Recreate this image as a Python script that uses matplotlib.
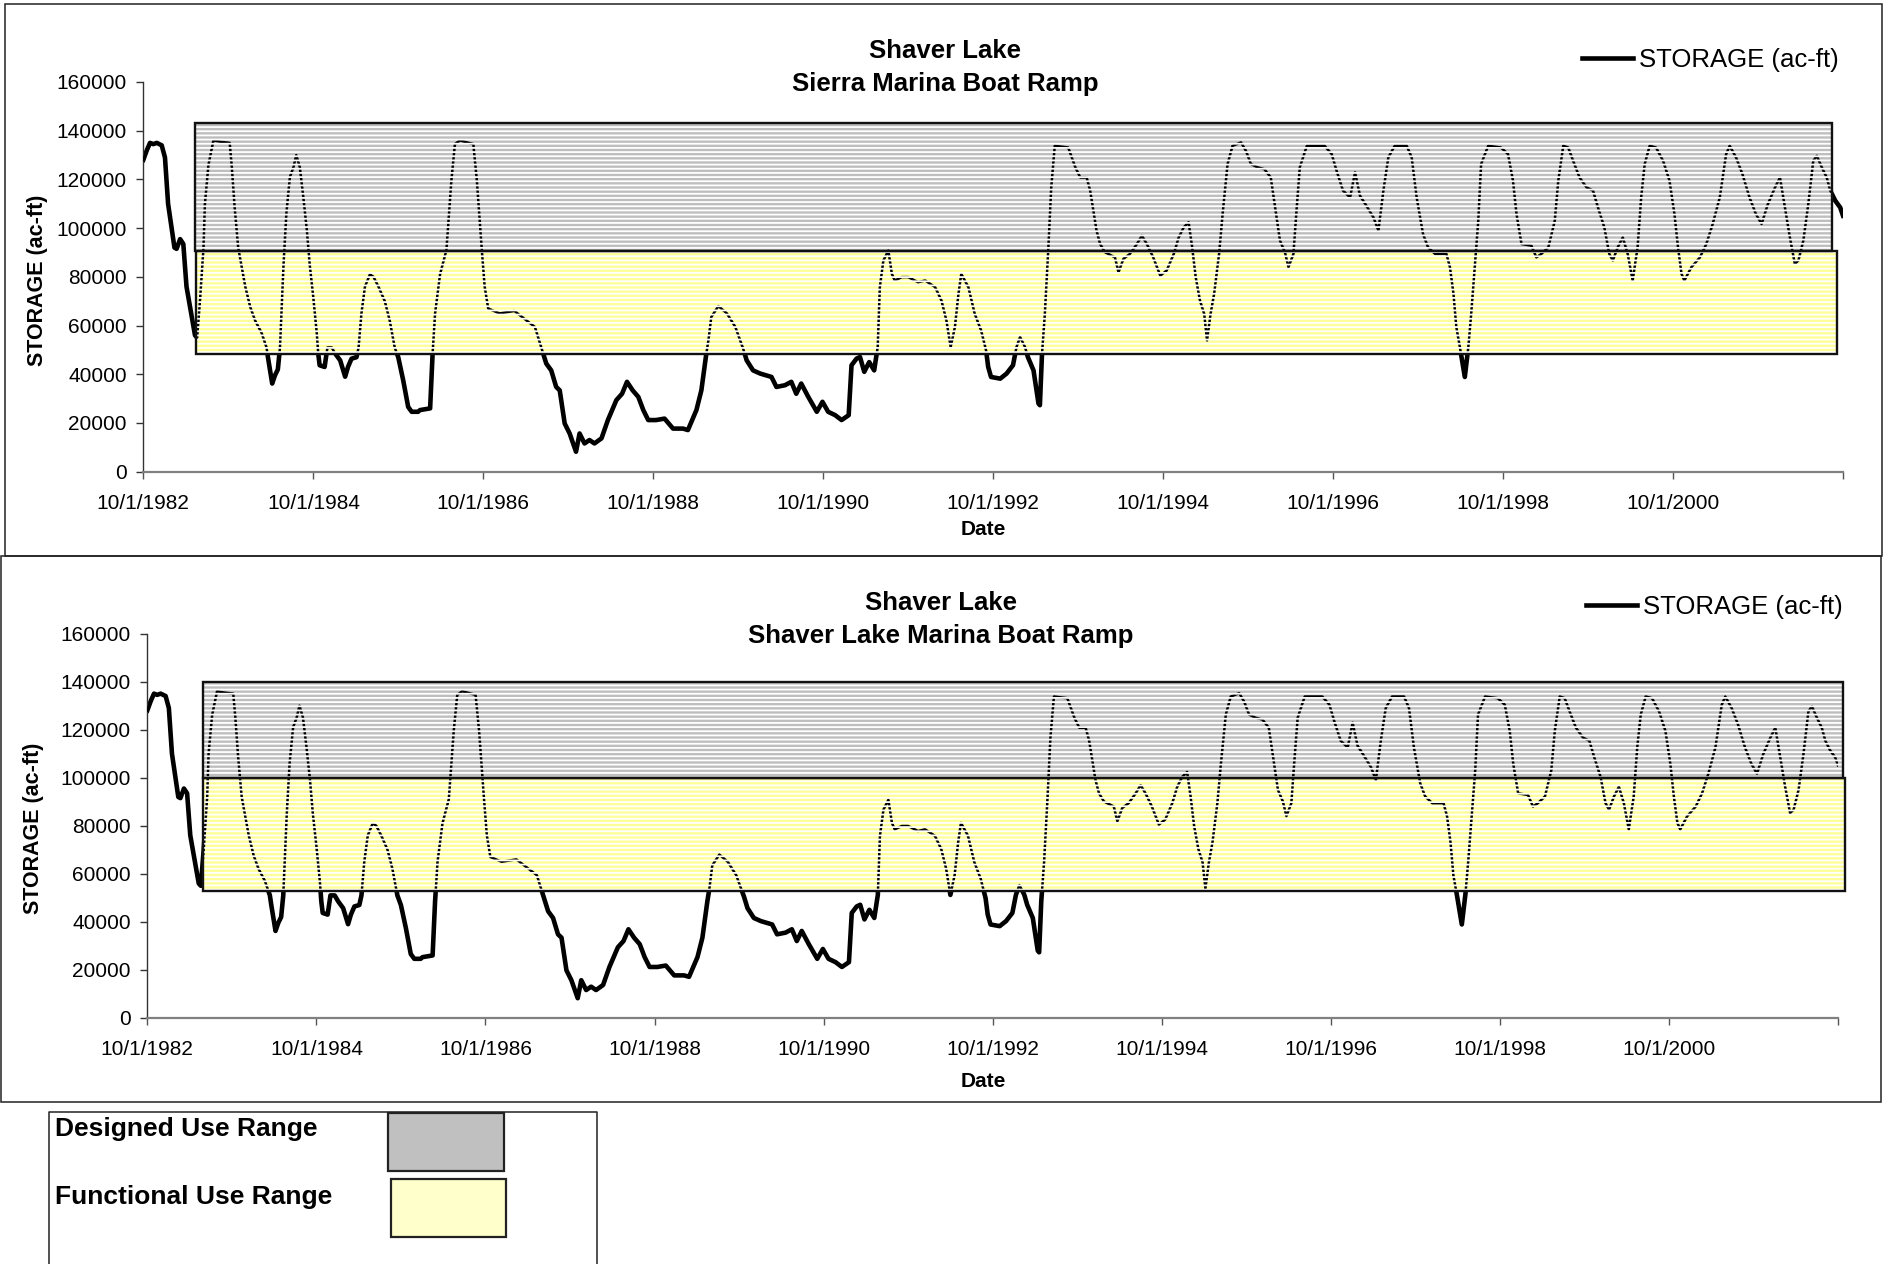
import numpy as np
import matplotlib
matplotlib.use("Agg")
import matplotlib.pyplot as plt
import matplotlib.dates as mdates
from matplotlib.patches import Rectangle
from matplotlib.lines import Line2D

plt.rcParams['font.family'] = ['Liberation Sans', 'DejaVu Sans']
plt.rcParams['hatch.linewidth'] = 1.3

W, H = 1887, 1264

# Reservoir storage, Shaver Lake (months after 10/1/1982, thousand acre-feet)
months = [
    0, 0.5, 0.95, 1.4, 1.9, 2.6, 3.06, 3.5, 4.0, 4.4, 4.7, 5.2, 5.65, 6.1, 6.6, 7.3, 7.6, 8.0, 8.5, 8.7,
    9.2, 9.9, 10.8, 12.2, 12.5, 12.9, 13.4, 13.9, 14.4, 15.1, 15.8, 16.7, 17.4, 17.6, 17.9, 18.2, 18.6,
    19.0, 19.3, 19.5, 19.8, 20.2, 20.7, 21.2, 21.6, 22.1, 22.6, 23.1, 23.5, 24.0, 24.5, 24.7, 24.9, 25.6,
    26.0, 26.6, 27.1, 27.8, 28.5, 28.9, 29.4, 30.1, 30.4, 30.8, 31.3, 32.0, 32.5, 33.2, 34.1, 34.8, 35.5,
    36.0, 36.7, 37.4, 37.9, 38.8, 39.07, 40.5, 40.85, 41.2, 41.9, 42.8, 43.5, 44.0, 44.7, 46.6, 47.1,
    47.8, 48.2, 48.7, 50.3, 52.4, 53.5, 55.3, 56.2, 56.9, 57.6, 58.3, 58.8, 59.5, 60.2, 61.1, 61.6, 62.3,
    63.0, 63.7, 64.7, 65.6, 66.8, 67.6, 68.3, 69.1, 69.9, 70.6, 71.3, 72.4, 73.6, 74.8, 76.2, 76.9, 78.1,
    78.8, 79.5, 79.8, 80.2, 81.2, 82.4, 83.6, 84.7, 85.2, 86.1, 87.1, 88.7, 89.4, 90.6, 91.5, 92.2, 92.9,
    93.9, 95.1, 95.9, 96.7, 97.7, 98.6, 99.6, 100.0, 100.7, 101.2, 101.8, 102.5, 103.2, 103.7, 104.0,
    104.5, 105.2, 105.7, 106.1, 107.1, 108.0, 109.4, 110.4, 111.8, 112.7, 113.4, 114.0, 114.6, 115.1,
    115.5, 116.5, 117.4, 118.3, 119.0, 119.3, 119.7, 121.0, 121.9, 122.8, 123.3, 123.8, 124.5, 124.9,
    125.7, 126.4, 126.6, 126.9, 127.3, 127.8, 128.2, 128.7, 130.6, 131.6, 132.3, 133.2, 133.7, 134.6,
    135.1, 135.8, 137.2, 137.7, 138.4, 139.3, 140.3, 141.0, 141.7, 142.6, 143.6, 144.5, 145.5, 146.2,
    146.9, 147.6, 148.1, 148.6, 149.2, 149.8, 150.2, 150.7, 151.2, 151.9, 152.4, 153.1, 153.8, 155.0,
    155.7, 156.4, 157.3, 158.3, 159.2, 160.5, 161.2, 161.7, 162.4, 162.8, 163.3, 164.3, 166.8, 167.8,
    168.5, 169.4, 170.4, 171.1, 171.8, 172.7, 173.7, 174.4, 175.1, 175.8, 176.7, 178.4, 179.1, 179.8,
    180.7, 181.4, 182.4, 184.0, 184.5, 185.0, 185.4, 185.9, 186.6, 187.1, 187.5, 188.0, 188.5, 188.9,
    189.9, 191.7, 192.7, 193.4, 193.9, 194.6, 196.0, 196.7, 197.4, 198.4, 199.3, 199.8, 200.5, 201.2,
    201.9, 202.8, 203.8, 204.7, 205.4, 206.3, 207.0, 207.5, 208.2, 208.9, 209.6, 210.3, 211.0, 211.5,
    212.0, 212.7, 213.6, 214.6, 215.5, 216.2, 216.7, 217.2, 217.6, 218.6, 219.8, 220.7, 221.6, 222.6,
    223.5, 224.0, 224.9, 225.8, 226.8, 227.7, 228.5, 229.4, 230.4, 231.1, 231.8, 232.5, 233.2, 233.7,
    234.4, 235.1, 235.8, 236.3, 237.0, 237.7, 238.2, 238.9, 239.6, 240.0,
]
storage_kaf = [
    128, 132, 135, 134.5, 135, 134, 129, 110, 100, 92, 91.5, 95.5, 93.5, 76, 67.6, 56, 55, 70, 92, 110,
    126, 136, 135.5, 135, 125, 108.5, 92, 84, 76, 67.6, 62, 57, 51, 47, 41.6, 36.2, 39.6,
    42, 51, 65, 85, 106, 121, 125, 130, 125, 112.6, 99, 85, 71.7, 56.7, 48.5, 43.7, 43,
    51, 51, 48.5, 45.7, 39, 43, 46.4, 47, 51, 65, 76, 81, 80, 76, 70, 62, 51,
    47, 37.5, 26.6, 24.6, 24.6, 25.3, 26, 48.5, 65, 81, 91, 119.5, 134.5, 136, 134.5, 119.5,
    91, 76, 67, 65, 66, 63.5, 59.4, 51, 44.4, 41.6, 34.8, 33.4, 19.8, 15.7, 8.2, 15.7, 11.6,
    13, 11.6, 13.7, 21.2, 29.4, 32, 36.9, 33.4, 30.7, 25.3, 21.2, 21.2, 21.8, 17.7, 17.7, 17.1, 25.3,
    33.4, 48.5, 54, 63.5, 68, 65, 59.4, 50.5, 45.7, 41.6, 40.3, 38.9, 34.8, 35.5, 36.9, 32, 36.2,
    30.7, 24.6, 28.7, 24.6, 23.2, 21.2, 23.2, 43.7, 46.4, 47.1, 41, 45, 41.6, 51.2, 75.8,
    86.7, 90.8, 81.2, 78.5, 79.9, 79.9, 77.8, 78.5, 75.8, 70.3, 62.1, 51.2, 59.4, 73,
    81.2, 75.8, 64.8, 58, 49.8, 43, 38.9, 38.2, 40.3, 43.7, 51.2, 55.3, 51.2, 47.1,
    41.6, 28, 27.3, 48.5, 64.8, 92.2, 116.7, 133.8, 133.1, 125, 120.8, 120.8, 115.4, 99,
    93.5, 90.1, 88, 81.9, 87.4, 89.4, 93.5, 96.9, 93.5, 88, 80.5, 82.6, 89.4, 96.2,
    100.3, 102.4, 92.2, 79.9, 70.3, 64.8, 53.9, 64.8, 73, 89.4, 105.8, 126.3, 133.8, 135.2,
    131.7, 126.3, 125, 124.2, 120.8, 94.9, 90.1, 84, 89.4, 105.8, 125, 133.8, 133.8, 130.4,
    123.5, 115.4, 112.6, 122.9, 113.3, 109.2, 104.4, 99, 115.4, 129, 133.8, 133.8, 129, 112.6,
    97.6, 92.2, 89.4, 89.4, 84, 73, 59.4, 51.2, 38.9, 51.2, 64.8, 84, 103, 126.3,
    133.8, 133.1, 130.4, 119.5, 105.8, 93.5, 92.8, 88, 89.4, 92.2, 103, 119.5, 133.8, 133.1,
    127.6, 120.8, 116.7, 115.4, 108.5, 100.3, 89.4, 86.7, 92.2, 96.2, 89.4, 78.5, 92.2, 112.6,
    126.3, 133.8, 133.1, 127.6, 119.5, 105.8, 92.2, 81.2, 78.5, 84, 88, 93.5, 101.7, 112.6,
    130.4, 133.8, 129, 122.2, 112.6, 105.8, 101.7, 109.9, 116.7, 120.8, 108.5, 96.2, 85.3, 86.7,
    94.9, 109.9, 127.6, 129.7, 125, 120.8, 115.4, 111.3, 108.5, 105.1,
]
storage = np.array(storage_kaf) * 1000.0

tick_years = list(range(1982, 2003, 2))
tick_labels = [f"10/1/{y}" for y in tick_years[:-1]] + [""]
y_ticks = list(range(0, 160001, 20000))

# Boat ramp use ranges: (low, high) storage and (start, end) months
sierra_designed = (90500, 143000)
sierra_designed_span = (7.3, 238.5)
sierra_functional = (48500, 90500)
sierra_functional_span = (7.5, 239.1)
marina_designed = (100000, 140000)
marina_designed_span = (7.9, 240.7)
marina_functional = (53000, 100000)
marina_functional_span = (7.9, 241.0)

GRAY = '#BEBEBE'
YELLOW = '#FFFF99'
YELLOW_KEY = '#FFFFCC'

start_num = mdates.date2num(np.datetime64('1982-10-01'))


def to_date(m):
    return start_num + np.asarray(m, dtype=float) * 365.25 / 12.0


def fx(x):
    return x / W


def fy(y):
    return 1.0 - y / H


fig = plt.figure(figsize=(W / 100, H / 100), dpi=100)


def frame_box(x0, y0, x1, y1):
    fig.add_artist(Rectangle((fx(x0), fy(y1)), (x1 - x0) / W, (y1 - y0) / H,
                             transform=fig.transFigure, fill=False,
                             ec='#222222', lw=1.1))


def draw_panel(frame, axpx, titles, title_pos, ranges, legend_pos,
               ylabel_pos, xlabel_pos):
    frame_box(*frame)
    l, t, r, b = axpx
    ax = fig.add_axes([fx(l), fy(b), (r - l) / W, (b - t) / H])
    ax.patch.set_alpha(0)
    x = to_date(months)
    # storage trace: heavy outside the ranges, light and striped inside them
    line, = ax.plot(x, storage, color='black', lw=3.3, zorder=1,
                    solid_joinstyle='round', label='STORAGE (ac-ft)')
    for (lo, hi), (m0, m1), col in ranges:
        x0, x1 = to_date([m0, m1])
        ax.add_patch(Rectangle((x0, lo), x1 - x0, hi - lo, fc=col, ec='none',
                               zorder=2, clip_on=False))
    ax.plot(x, storage, color='black', lw=1.8, zorder=3)
    for (lo, hi), (m0, m1), col in ranges:
        x0, x1 = to_date([m0, m1])
        ax.add_patch(Rectangle((x0, lo), x1 - x0, hi - lo, fc='none',
                               ec='white', lw=0, hatch='----', zorder=4,
                               clip_on=False))
    for (lo, hi), (m0, m1), col in ranges:
        x0, x1 = to_date([m0, m1])
        ax.add_patch(Rectangle((x0, lo), x1 - x0, hi - lo, fill=False,
                               ec='#111111', lw=1.7, zorder=5, clip_on=False))

    ax.set_xlim(to_date(0), to_date(240))
    ax.set_ylim(0, 160000)
    ax.set_xticks([mdates.date2num(np.datetime64(f"{y}-10-01")) for y in tick_years])
    ax.set_xticklabels(tick_labels)
    ax.set_yticks(y_ticks)
    ax.set_yticklabels([str(v) for v in y_ticks])
    for s in ('top', 'right'):
        ax.spines[s].set_visible(False)
    ax.spines['left'].set_color('#333333')
    ax.spines['left'].set_linewidth(1.0)
    ax.spines['bottom'].set_color('#808080')
    ax.spines['bottom'].set_linewidth(1.6)
    ax.tick_params(axis='y', direction='out', length=5.4, width=1.0,
                   color='#333333', labelsize=15, pad=6.5)
    ax.tick_params(axis='x', direction='out', length=4.8, width=1.0,
                   color='#555555', labelsize=15, pad=11.2)

    ax.set_ylabel('STORAGE (ac-ft)', fontsize=15.5, fontweight='bold')
    ax.yaxis.set_label_coords(fx(ylabel_pos[0]), fy(ylabel_pos[1]),
                              transform=fig.transFigure)
    ax.yaxis.label.set_verticalalignment('center')
    ax.set_xlabel('Date', fontsize=15, fontweight='bold')
    ax.xaxis.set_label_coords(fx(xlabel_pos[0]), fy(xlabel_pos[1]),
                              transform=fig.transFigure)
    ax.xaxis.label.set_verticalalignment('center')

    for txt, ty in zip(titles, title_pos[1]):
        fig.text(fx(title_pos[0]), fy(ty), txt, ha='center', va='center',
                 fontsize=18.5, fontweight='bold')

    ax.legend(handles=[line], loc='center left',
              bbox_to_anchor=(fx(legend_pos[0]), fy(legend_pos[1])),
              bbox_transform=fig.transFigure, frameon=False, fontsize=18.5,
              handlelength=2.0, handletextpad=0.22, borderpad=0,
              borderaxespad=0)
    return ax


draw_panel(frame=(5, 4, 1882, 556),
           axpx=(143.3, 82, 1843, 471.7),
           titles=['Shaver Lake', 'Sierra Marina Boat Ramp'],
           title_pos=(945, (50.5, 84)),
           ranges=[(sierra_designed, sierra_designed_span, GRAY),
                   (sierra_functional, sierra_functional_span, YELLOW)],
           legend_pos=(1582, 60),
           ylabel_pos=(37.5, 280),
           xlabel_pos=(983, 529.5))

draw_panel(frame=(1, 556, 1880.5, 1102),
           axpx=(147.3, 633.6, 1838, 1017.9),
           titles=['Shaver Lake', 'Shaver Lake Marina Boat Ramp'],
           title_pos=(941, (602.5, 636)),
           ranges=[(marina_designed, marina_designed_span, GRAY),
                   (marina_functional, marina_functional_span, YELLOW)],
           legend_pos=(1586, 607),
           ylabel_pos=(33.5, 828),
           xlabel_pos=(983, 1081.5))

# Key for the shaded ranges
key_x0, key_x1, key_top = 49, 597, 1111.7
fig.add_artist(Line2D([fx(key_x0), fx(key_x0), fx(key_x1), fx(key_x1)],
                      [fy(H + 5), fy(key_top), fy(key_top), fy(H + 5)],
                      transform=fig.transFigure, color='#222222', lw=1.1))
key_labels = ['Designed Use Range', 'Functional Use Range']
key_colors = ['#C0C0C0', YELLOW_KEY]
key_label_y = [1129, 1197]
key_boxes = [(388, 1113, 504, 1171), (390.6, 1179, 505.8, 1237)]
for lab, col, ly, (bx0, by0, bx1, by1) in zip(key_labels, key_colors,
                                               key_label_y, key_boxes):
    fig.text(fx(55), fy(ly), lab, ha='left', va='center', fontsize=19,
             fontweight='bold')
    fig.add_artist(Rectangle((fx(bx0), fy(by1)), (bx1 - bx0) / W,
                             (by1 - by0) / H, transform=fig.transFigure,
                             fc=col, ec='#222222', lw=1.6))

fig.savefig('out.png', dpi=100)
